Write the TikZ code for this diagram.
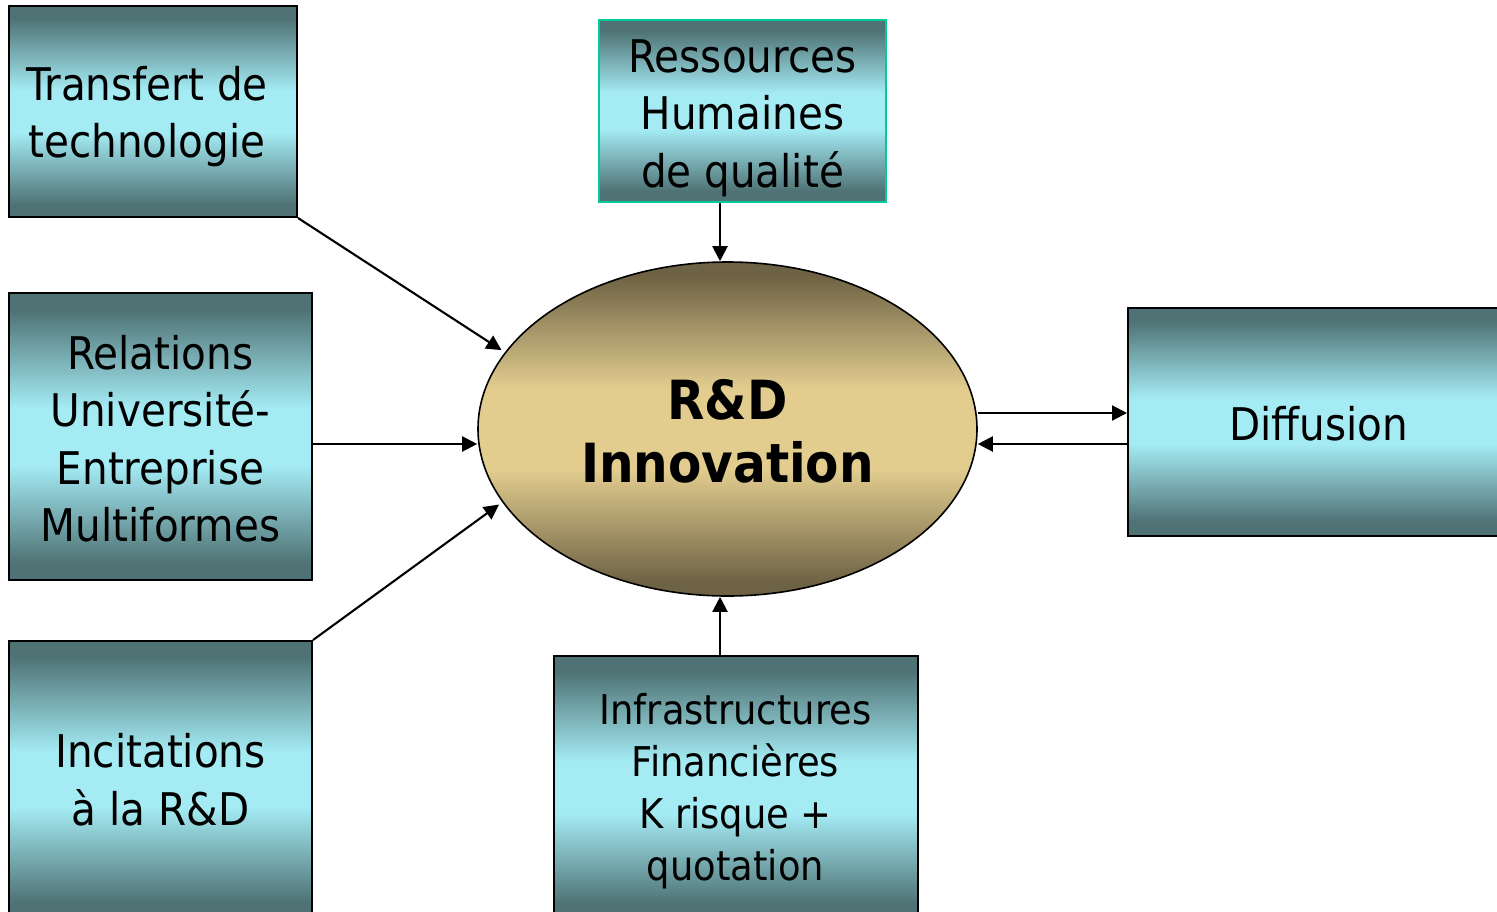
\documentclass[tikz,border=0pt]{standalone}
\usepackage{fontspec}
\setmainfont{DejaVu Sans Condensed}
\usetikzlibrary{arrows.meta,shapes.geometric}
\definecolor{tealdark}{RGB}{79,115,117}
\definecolor{teallight}{RGB}{164,235,244}
\definecolor{tandark}{RGB}{110,98,68}
\definecolor{tanlight}{RGB}{226,205,143}
\definecolor{bordergreen}{RGB}{0,204,153}
\pgfdeclareverticalshading{tealshade}{100bp}{color(0bp)=(tealdark); color(25bp)=(tealdark); color(28bp)=(tealdark); color(45bp)=(teallight); color(55bp)=(teallight); color(72bp)=(tealdark); color(75bp)=(tealdark); color(100bp)=(tealdark)}
\pgfdeclareverticalshading{tanshade}{100bp}{color(0bp)=(tandark); color(25bp)=(tandark); color(27bp)=(tandark); color(44bp)=(tanlight); color(56bp)=(tanlight); color(73bp)=(tandark); color(75bp)=(tandark); color(100bp)=(tandark)}
\tikzset{
  box/.style={draw=black, line width=2pt, shading=tealshade, inner sep=0pt},
  boxtext/.style={inner sep=0pt, align=center, text=black, font=\fontsize{45}{57.5}\selectfont},
  core/.style={ellipse, draw=black, line width=1.6pt, shading=tanshade, inner sep=0pt},
  coretext/.style={inner sep=0pt, align=center, text=black, font=\bfseries\fontsize{54}{63}\selectfont},
  arr/.style={line width=2.1pt, -{Triangle[length=15pt,width=15pt]}}
}
\begin{document}
\begin{tikzpicture}[x=1pt,y=-1pt]
\useasboundingbox (0,0) rectangle (1497,911);
\clip (0,0) rectangle (1497,911);
\node[box, minimum width=288, minimum height=211,
  label={[boxtext, xshift=-6pt, yshift=-5pt]center:{Transfert de\\technologie}}] (tt) at (153,111.5) {};
\node[box, minimum width=303, minimum height=287,
  label={[boxtext, yshift=-2pt]center:{Relations\\Université-\\Entreprise\\Multiformes}}] (rel) at (160.5,436.5) {};
\node[box, minimum width=303, minimum height=277,
  label={[boxtext]center:{Incitations\\à la R\&D}}] (inc) at (160.5,779.5) {};
\node[box, draw=bordergreen, minimum width=287, minimum height=182,
  label={[boxtext, yshift=-7pt]center:{Ressources\\Humaines\\de qualité}}] (res) at (742.5,111) {};
\node[box, minimum width=364, minimum height=263,
  label={[boxtext, font=\fontsize{41}{52}\selectfont, yshift=-3.5pt]center:{Infrastructures\\Financières\\K risque +\\quotation}}] (inf) at (735.5,787.5) {};
\node[box, minimum width=381, minimum height=228,
  label={[boxtext, yshift=-2pt]center:{Diffusion}}] (dif) at (1318.5,421.5) {};
\node[core, minimum width=499, minimum height=334,
  label={[coretext, yshift=-2.5pt]center:{R\&D\\Innovation}}] (rd) at (727.5,429) {};
\draw[arr, shorten >=4pt] (tt.south east) -- (rd.161.8);
\draw[arr] ([yshift=-7.5pt]rel.east) -- ([yshift=-15pt]rd.west);
\draw[arr, shorten >=4pt] (inc.north east) -- (rd.198.2);
\draw[arr] ([xshift=-22.5pt]res.south) -- ([xshift=-7.5pt]rd.north);
\draw[arr] ([xshift=-15.5pt]inf.north) -- ([xshift=-7.5pt]rd.south);
\draw[arr] ([yshift=16pt]rd.east) -- ([yshift=8.5pt]dif.west);
\draw[arr] ([yshift=-22.5pt]dif.west) -- ([yshift=-15pt]rd.east);
\end{tikzpicture}
\end{document}
